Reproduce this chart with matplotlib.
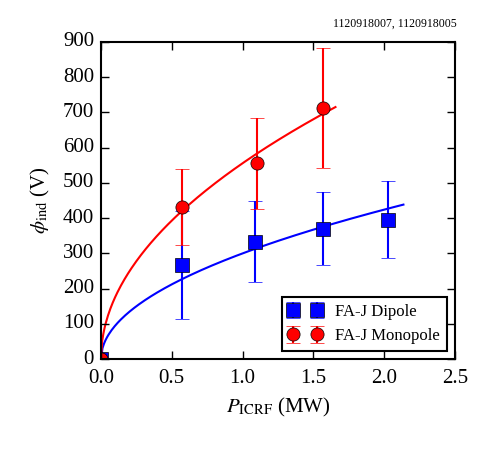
import numpy as np
import matplotlib.pyplot as plt

plt.style.use('classic')
plt.rcParams['font.family'] = ['Liberation Serif', 'DejaVu Serif']
plt.rcParams['mathtext.fontset'] = 'stix'

# data
p_dip = [0.0, 0.57, 1.09, 1.565, 2.025]
phi_dip = [0, 267, 333, 370, 395]
err_dip = [0, 152, 115, 104, 109]

p_mono = [0.0, 0.575, 1.10, 1.57]
phi_mono = [0, 432, 556, 712]
err_mono = [0, 107, 129, 170]

shots = "1120918007, 1120918005"


def sqrt_fit(x, y):
    x = np.asarray(x)
    y = np.asarray(y)
    a = np.sum(y * np.sqrt(x)) / np.sum(x)
    xf = np.linspace(0, x.max() * 1.055, 200)
    return xf, a * np.sqrt(xf)


fig = plt.figure(figsize=(4.95, 4.5), dpi=100)
ax = fig.add_axes([0.204, 0.202, 0.715, 0.705])

ax.errorbar(p_dip, phi_dip, yerr=err_dip, fmt='s', color='b', ecolor='b',
            markersize=9.5, markeredgecolor='k', markeredgewidth=0.5,
            elinewidth=1.5, capsize=5, capthick=1.5, label='FA-J Dipole')
ax.errorbar(p_mono, phi_mono, yerr=err_mono, fmt='o', color='r', ecolor='r',
            markersize=9.5, markeredgecolor='k', markeredgewidth=0.5,
            elinewidth=1.5, capsize=5, capthick=1.5, label='FA-J Monopole')

xf, yf = sqrt_fit(p_dip, phi_dip)
ax.plot(xf, yf, color='b', lw=1.5)
xf, yf = sqrt_fit(p_mono, phi_mono)
ax.plot(xf, yf, color='r', lw=1.5)

ax.set_xlim(0, 2.5)
ax.set_ylim(0, 900)
ax.set_xticks(np.arange(0, 2.51, 0.5))
ax.set_yticks(np.arange(0, 901, 100))
ax.tick_params(labelsize=15, width=1, length=6)
ax.tick_params(axis='x', pad=7)
ax.tick_params(axis='y', pad=5)
for s in ax.spines.values():
    s.set_linewidth(1.5)

ax.set_xlabel(r'$P_{\rm ICRF}$ (MW)', fontsize=15, labelpad=6)
ax.set_ylabel(r'$\phi_{\rm ind}$ (V)', fontsize=15, labelpad=8)

leg = ax.legend(loc='lower right', numpoints=2, fontsize=12, fancybox=False,
                handletextpad=0.8, borderaxespad=0.5)
leg.get_frame().set_linewidth(1.5)

fig.text(0.923, 0.935, shots, fontsize=8.5, ha='right', va='bottom')

fig.savefig('out.png', dpi=100)
